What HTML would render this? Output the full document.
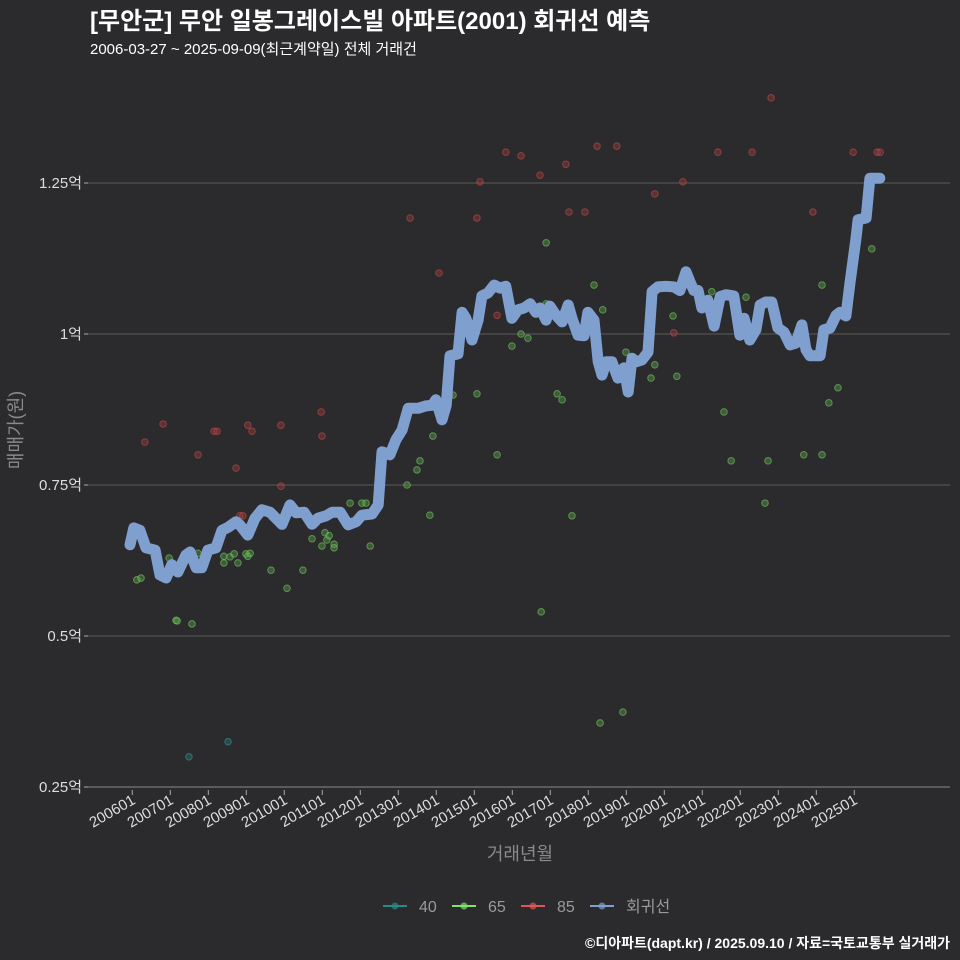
<!DOCTYPE html>
<html><head><meta charset="utf-8">
<style>
html,body{margin:0;padding:0;background:#2b2a2c;}
svg{display:block;font-family:"Liberation Sans","Noto Sans CJK KR",sans-serif;}
</style></head>
<body>
<svg id="chart" width="960" height="960" viewBox="0 0 960 960" xmlns="http://www.w3.org/2000/svg">
<rect width="960" height="960" fill="#2b2a2c"/>
<text x="90" y="29" fill="#ffffff" font-size="24" font-weight="bold">[무안군] 무안 일봉그레이스빌 아파트(2001) 회귀선 예측</text>
<text x="90" y="54" fill="#ffffff" font-size="15">2006-03-27 ~ 2025-09-09(최근계약일) 전체 거래건</text>
<g id="grid"></g>
<g id="yaxis"></g>
<g id="xaxis"></g>
<g id="points"></g>
<g id="line"></g>
<text x="22" y="430" fill="#8a8a8a" font-size="18" transform="rotate(-90 22 430)" text-anchor="middle">매매가(원)</text>
<text x="520" y="860" fill="#8a8a8a" font-size="18" text-anchor="middle">거래년월</text>
<g id="legend"></g>
<text x="950" y="948" fill="#ffffff" font-size="14" font-weight="bold" text-anchor="end">©디아파트(dapt.kr) / 2025.09.10 / 자료=국토교통부 실거래가</text>
</svg>
<script>
const yTicks=[0.25,0.5,0.75,1,1.25];
const yTickLabels=["0.25억","0.5억","0.75억","1억","1.25억"];
const xTickYears=[2006,2007,2008,2009,2010,2011,2012,2013,2014,2015,2016,2017,2018,2019,2020,2021,2022,2023,2024,2025];
const xTickLabels=["200601","200701","200801","200901","201001","201101","201201","201301","201401","201501","201601","201701","201801","201901","202001","202101","202201","202301","202401","202501"];
const lineYears=[-0.06,0.04,0.20,0.36,0.60,0.73,0.89,1.04,1.20,1.41,1.52,1.68,1.83,1.99,2.20,2.36,2.52,2.73,2.83,3.04,3.23,3.41,3.62,3.78,3.94,4.15,4.31,4.52,4.73,4.89,5.10,5.26,5.47,5.68,5.89,6.04,6.31,6.47,6.57,6.78,6.94,7.10,7.26,7.52,7.73,7.89,7.99,8.15,8.26,8.36,8.57,8.68,8.78,8.94,9.10,9.20,9.36,9.52,9.68,9.83,9.99,10.15,10.31,10.47,10.62,10.73,10.89,10.99,11.15,11.31,11.47,11.57,11.73,11.89,11.99,12.15,12.26,12.36,12.47,12.62,12.78,12.94,13.05,13.15,13.26,13.41,13.57,13.68,13.83,14.04,14.25,14.41,14.57,14.68,14.78,14.89,14.99,15.15,15.31,15.47,15.62,15.83,15.99,16.10,16.25,16.41,16.52,16.67,16.83,16.99,17.15,17.31,17.46,17.62,17.73,17.83,18.10,18.20,18.36,18.52,18.62,18.78,18.89,19.04,19.10,19.31,19.41,19.67];
const lineValues=[.651,.679,.675,.646,.642,.601,.596,.618,.606,.634,.639,.613,.613,.642,.646,.675,.680,.689,.684,.667,.695,.709,.705,.695,.685,.717,.704,.705,.685,.695,.699,.705,.705,.684,.689,.700,.702,.717,.805,.800,.825,.841,.877,.877,.881,.882,.891,.858,.882,.964,.967,1.036,1.026,.990,1.023,1.063,1.068,1.081,1.076,1.079,1.026,1.040,1.043,1.050,1.036,1.043,1.023,1.046,1.031,1.020,1.048,1.026,.998,.997,1.036,1.023,.954,.932,.954,.954,.927,.944,.904,.960,.954,.957,.970,1.070,1.078,1.079,1.078,1.072,1.103,1.086,1.072,1.072,1.043,1.056,1.013,1.062,1.065,1.063,.998,1.026,.990,1.007,1.048,1.053,1.053,1.010,1.003,.982,.985,1.015,.974,.964,.964,1.007,1.010,1.031,1.036,1.030,1.086,1.156,1.189,1.192,1.258,1.258];
const red85Years=[0.33,0.81,1.73,2.15,2.23,2.73,2.83,2.91,3.04,3.15,3.91,3.91,4.97,4.99,7.31,8.07,8.36,9.07,9.15,9.60,9.83,10.23,10.73,11.41,11.49,11.91,12.23,12.75,13.75,14.49,15.41,16.31,16.81,17.91,18.97,19.60,19.68,14.25];
const red85Values=[.821,.851,.800,.839,.839,.778,.699,.699,.849,.839,.849,.748,.871,.831,1.192,1.101,.899,1.192,1.252,1.031,1.301,1.295,1.263,1.281,1.202,1.202,1.311,1.311,1.232,1.252,1.301,1.301,1.391,1.202,1.301,1.301,1.301,1.002];
const green65Years=[0.12,0.23,0.97,1.15,1.18,1.57,1.73,2.41,2.41,2.57,2.68,2.78,2.99,3.04,3.10,3.65,4.07,4.49,4.73,4.99,5.07,5.12,5.18,5.31,5.31,5.73,6.04,6.15,6.26,7.23,7.49,7.57,7.83,7.91,8.44,9.07,9.60,9.99,10.23,10.41,10.76,10.89,10.89,11.18,11.31,11.57,12.15,12.38,12.91,12.99,13.65,14.23,14.33,15.25,15.57,15.76,16.15,16.65,16.73,17.67,18.15,18.15,18.33,18.57,19.46,13.75,12.31];
const green65Values=[.593,.596,.629,.526,.525,.520,.637,.621,.632,.631,.636,.621,.636,.632,.637,.609,.579,.609,.661,.649,.671,.659,.666,.652,.646,.720,.720,.720,.649,.750,.775,.790,.700,.831,.899,.901,.800,.980,1.000,.993,.540,1.151,1.050,.901,.891,.699,1.081,1.040,.374,.970,.927,1.030,.930,1.070,.871,.790,1.061,.720,.790,.800,1.081,.800,.886,.911,1.141,.949,.356];
const teal40Years=[1.49,2.52];
const teal40Values=[.300,.325];

const NS="http://www.w3.org/2000/svg";
const X=yr=>132.3+yr*38;
const Xt=y=>X(y-2006);
const Y=v=>787-(v-0.25)/0.25*151;
function mk(tag,attrs,parent){const e=document.createElementNS(NS,tag);for(const k in attrs)e.setAttribute(k,attrs[k]);parent.appendChild(e);return e;}
const grid=document.getElementById('grid'),ya=document.getElementById('yaxis'),xa=document.getElementById('xaxis');
yTicks.forEach((t,i)=>{
  const l=mk('line',{x1:88,x2:950,y1:Y(t),y2:Y(t),stroke:i===0?'#8a8a8a':'#5c5c5c','stroke-width':1},grid);
  
  
  const tk=mk('line',{x1:84,x2:88,y1:Y(t),y2:Y(t),stroke:'#aaa'},ya);
  
  
  const tx=mk('text',{x:82,y:Y(t)+5,fill:'#dddddd','font-size':15,'text-anchor':'end'},ya);
  tx.textContent=yTickLabels[i];
  
  
});
xTickYears.forEach((yr,i)=>{
  const x=Xt(yr);
  const tk=mk('line',{x1:x,x2:x,y1:790,y2:795,stroke:'#aaa'},xa);
  
  
  const tx=mk('text',{x:x+4,y:803,fill:'#dddddd','font-size':15,'text-anchor':'end',transform:`rotate(-30 ${x+4} 803)`},xa);
  tx.textContent=xTickLabels[i];
  
  
});
const pts=document.getElementById('points');
function scatter(ys,vs,fill,stroke,name){
  ys.forEach((yr,i)=>{
    const c=mk('circle',{cx:X(yr),cy:Y(vs[i]),r:3.3,fill:fill,stroke:stroke,'stroke-width':1,'fill-opacity':0.4,'stroke-opacity':0.55},pts);
    
    
  });
}
scatter(teal40Years,teal40Values,'#2a7d7d','#3a9a9a','point-40');
scatter(red85Years,red85Values,'#a53c3c','#c85050','point-85');
scatter(green65Years,green65Values,'#5aa84a','#7fd36a','point-65');
const d=lineYears.map((yr,i)=>(i?'L':'M')+X(yr).toFixed(1)+','+Y(lineValues[i]).toFixed(1)).join(' ');
const p=mk('path',{d:d,fill:'none',stroke:'#7f9fcf','stroke-width':11,'stroke-linejoin':'round','stroke-linecap':'round'},document.getElementById('line'));


const lg=document.getElementById('legend');
const items=[['40','#2a8a8a',383],['65','#7fe36a',452],['85','#e05555',521],['회귀선','#7f9fcf',590]];
items.forEach(([lab,col,x])=>{
  const g=mk('g',{},lg);
  
  
  mk('line',{x1:x,x2:x+24,y1:906,y2:906,stroke:col,'stroke-width':2},g);
  mk('circle',{cx:x+12,cy:906,r:3.5,fill:col,'fill-opacity':0.7},g);
  const t=mk('text',{x:x+36,y:912,fill:'#9a9a9a','font-size':16},g);
  t.textContent=lab;
});
</script>
</body></html>
